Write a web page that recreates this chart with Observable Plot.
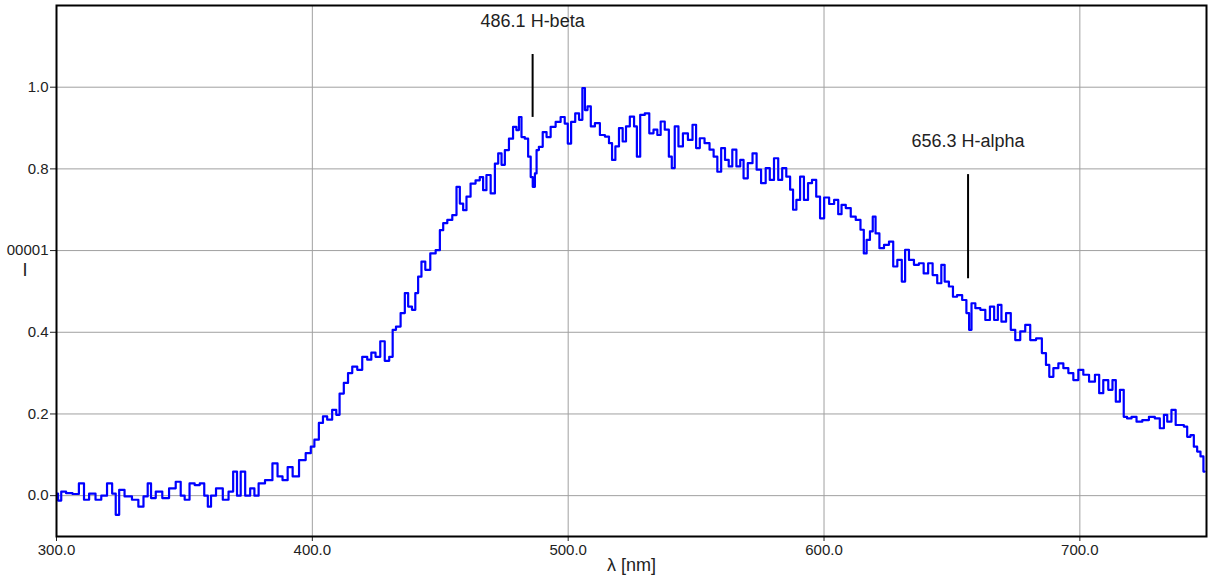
<!DOCTYPE html>
<html><head><meta charset="utf-8">
<script src="https://cdn.jsdelivr.net/npm/d3@7"></script>
<script src="https://cdn.jsdelivr.net/npm/@observablehq/plot@0.6"></script>
<style>body{margin:0;background:#fff;}</style>
</head><body><div id="chart"></div>
<script>
const wavelength = [
300.0,301.2,302.5,305,307.5,310,311.5,314,316.5,318.5,321,322.5,323.8,325.2,328,331,333,335,336.3,337.6,
340,342.7,345.3,347.9,349.2,351,353,355,357,358.5,359.8,361,363.7,366.3,368.2,369.9,371.2,372.8,374.7,376.7,
378,380,383,385.8,387,389.7,391,393.6,396,398.8,
400,401.6,403.5,404.8,406.8,408.7,410,411.3,413.3,414.6,416.6,418.5,420.5,422.4,423.7,425.7,427.4,429.2,430.9,431.9,
433.5,435.5,436.8,438.1,439.8,440.7,442,443.3,445,447.2,449.2,450.5,451.8,453.7,455.7,457,458.3,459.6,460.9,462.8,
464.8,466.1,467.4,468.7,470.7,472,473.3,474.6,475.9,477.8,479.1,480.4,481.1,482.4,483.7,485,485.7,486.6,487.4,487.9,
489.2,490.9,492.2,494.1,496.1,498,499.3,500.4,501.9,503.6,504.9,506.2,506.9,508.2,509.5,
511.4,513.4,515.3,516.6,517.7,519.2,520.5,522.1,523.1,525.1,526.4,527.3,529,530.9,532.5,534.2,535.5,536.8,538.7,540,
541,542.3,543.9,545.8,547.8,549.4,550.6,552.3,554.3,556.2,557.5,559.1,560.5,562.1,563.4,564.9,566.6,567.9,569.2,571.2,
572.9,574.4,576.4,578,579.6,581.3,582.9,584.4,586.1,587.4,588.4,590,591.3,593,594.5,596.1,597.8,599.1,601,603,
604.9,606.2,607.5,609.5,
611.4,613.4,615.1,616,617.3,618.6,619.5,620.8,622.5,624.4,626.4,627.7,629.6,631.2,632.2,634.2,636.1,638.1,639.8,641.6,
643.3,645.2,646.5,647.8,649.8,651,653,655,656.3,657.1,658.2,660.1,662.1,664,665.7,667.3,668.6,670.1,672.2,673.8,
675.7,677.7,679.6,681.6,684.2,686.1,687.4,688.7,690.6,692.6,694.5,696.5,698.4,700.4,702.3,704.9,706.9,708.2,710.1,712.1,
713.4,714.7,716.6,717.7,719.2,721.2,723.1,725.7,728.3,730.3,732.2,733.5,734.8,736.8,738.1,740,741.3,742.6,743.9,745.2,
746.5,747.8,748.8
];
const intensity = [
0.005,-0.012,0.01,0.006,0.004,0.03,-0.01,0.005,-0.01,0.0,0.03,0.005,-0.047,0.014,-0.002,-0.01,-0.027,-0.002,0.03,-0.006,
0.01,-0.006,0.018,0.034,0.0,-0.01,0.03,0.026,0.03,0.0,-0.027,0.0,0.018,-0.01,0.01,0.059,0.0,0.059,0.0,0.018,
0.0,0.03,0.038,0.079,0.047,0.038,0.07,0.047,0.087,0.104,
0.12,0.137,0.178,0.194,0.186,0.21,0.198,0.25,0.276,0.3,0.316,0.308,0.34,0.333,0.35,0.34,0.378,0.33,0.34,0.406,
0.414,0.447,0.496,0.463,0.455,0.496,0.536,0.573,0.553,0.593,0.601,0.65,0.667,0.675,0.687,0.756,0.715,0.699,0.732,0.764,
0.772,0.78,0.748,0.785,0.74,0.813,0.838,0.81,0.846,0.874,0.903,0.895,0.927,0.878,0.874,0.83,0.78,0.756,0.789,0.846,
0.854,0.89,0.878,0.903,0.915,0.927,0.911,0.862,0.915,0.936,0.92,0.998,0.944,0.953,0.904,
0.912,0.883,0.879,0.863,0.822,0.855,0.9,0.867,0.904,0.928,0.904,0.83,0.932,0.936,0.887,0.896,0.883,0.916,0.896,0.83,
0.802,0.904,0.855,0.887,0.871,0.908,0.851,0.875,0.863,0.847,0.83,0.793,0.851,0.822,0.806,0.847,0.806,0.822,0.777,0.814,
0.838,0.798,0.765,0.802,0.773,0.826,0.773,0.802,0.781,0.749,0.7,0.724,0.781,0.724,0.765,0.773,0.732,0.679,0.73,0.714,
0.724,0.689,0.712,0.704,
0.683,0.675,0.651,0.593,0.626,0.647,0.683,0.642,0.606,0.614,0.622,0.561,0.577,0.524,0.602,0.577,0.565,0.569,0.544,0.569,
0.54,0.52,0.565,0.524,0.512,0.487,0.491,0.479,0.447,0.406,0.471,0.459,0.455,0.43,0.463,0.43,0.467,0.426,0.447,0.406,
0.381,0.402,0.418,0.381,0.385,0.349,0.32,0.291,0.312,0.324,0.312,0.3,0.283,0.308,0.296,0.279,0.296,0.251,0.283,0.259,
0.283,0.23,0.259,0.193,0.189,0.193,0.181,0.185,0.193,0.189,0.165,0.198,0.181,0.21,0.173,0.173,0.169,0.144,0.148,0.12,
0.108,0.096,0.059
];
const xTicks = [300, 400, 500, 600, 700];
const yTicks = [0, 0.2, 0.4, 0.6, 0.8, 1.0];
const yTickLabels = ["0.0", "0.2", "0.4", "00001", "0.8", "1.0"];
const lineLambda = [486.1, 656.3];
const lineLabels = ["486.1 H-beta", "656.3 H-alpha"];
const lineTop = [1.08, 0.786];
const lineBottom = [0.926, 0.531];
const labelLevel = [1.162, 0.867];

const spectrum = wavelength.map((w, i) => ({w, v: intensity[i]}));
const lines = lineLambda.map((w, i) => ({w, label: lineLabels[i], y1: lineTop[i], y2: lineBottom[i], ly: labelLevel[i]}));

const chart = Plot.plot({
  width: 1211, height: 586,
  marginLeft: 56, marginRight: 5, marginTop: 5, marginBottom: 50,
  style: {fontFamily: "'Liberation Sans', Arial, sans-serif", fontSize: "15px", color: "#222", background: "#fff", overflow: "visible"},
  x: {domain: [300, 749.5]},
  y: {domain: [-0.1, 1.2]},
  marks: [
    Plot.gridX(xTicks, {stroke: "#a0a0a0", strokeOpacity: 1}),
    Plot.gridY(yTicks, {stroke: "#a0a0a0", strokeOpacity: 1}),
    Plot.lineY(spectrum, {x: "w", y: "v", stroke: "#0000ff", strokeWidth: 2.2, curve: "step", clip: true}),
    Plot.ruleX(lines, {x: "w", y1: "y1", y2: "y2", stroke: "#000", strokeWidth: 2}),
    Plot.text(lines, {x: "w", y: "ly", text: "label", fontSize: 18, fill: "#222"}),
    Plot.axisX(xTicks, {tickFormat: d => d.toFixed(1), tickSize: 5, tickPadding: 3, label: null, fontSize: 15}),
    Plot.axisY(yTicks, {tickFormat: d => yTickLabels[yTicks.indexOf(d)], tickSize: 6, tickPadding: 2, label: null, fontSize: 15}),
    Plot.text(["λ [nm]"], {frameAnchor: "bottom", dy: 34, text: d => d, fontSize: 18, fill: "#222"}),
    Plot.text(["I"], {frameAnchor: "left", y: [0.553], dx: -34, text: d => d, fontSize: 18, fill: "#222"}),
    Plot.frame({stroke: "#000", strokeWidth: 2})
  ]
});
document.getElementById("chart").appendChild(chart);
</script>
</body></html>
